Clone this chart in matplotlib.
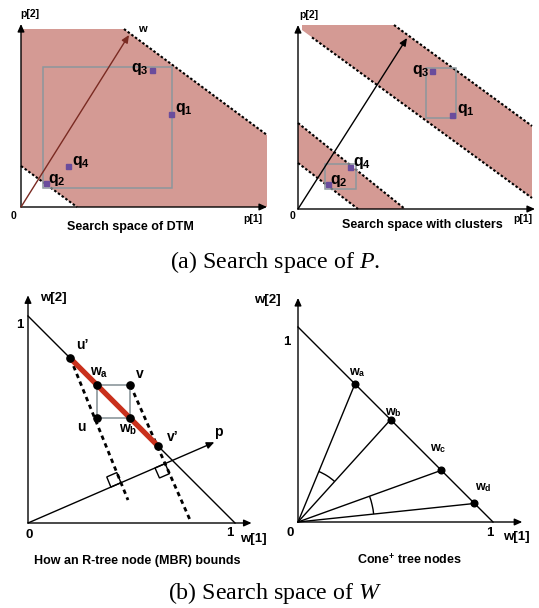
import numpy as np
import matplotlib
matplotlib.use("Agg")
import matplotlib.pyplot as plt
from matplotlib.patches import Polygon, Rectangle, Arc

plt.rcParams["font.family"] = ["Liberation Sans", "DejaVu Sans"]
plt.rcParams["mathtext.fontset"] = "custom"
plt.rcParams["mathtext.rm"] = "Liberation Sans:bold"
plt.rcParams["mathtext.bf"] = "Liberation Sans:bold"
plt.rcParams["mathtext.it"] = "Liberation Serif:italic"

# ---- (a) search space of P, left: DTM -------------------------------------
dtm_region = [(0.0, 0.89), (0.515, 0.89), (1.23, 0.36), (1.23, 0.0), (0.28, 0.0), (0.0, 0.205)]
dtm_bounds = [[(0.515, 0.89), (1.23, 0.36)], [(0.0, 0.205), (0.28, 0.0)]]
dtm_box = [(0.11, 0.095), (0.755, 0.70)]
dtm_w = (0.54, 0.86)
q_names = ["1", "2", "3", "4"]
dtm_qx = [0.75, 0.125, 0.655, 0.235]
dtm_qy = [0.465, 0.12, 0.685, 0.205]

# ---- (a) right: with clusters ---------------------------------------------
cl_upper = [(0.02, 0.92), (0.48, 0.92), (1.17, 0.415), (1.17, 0.055), (0.02, 0.895)]
cl_lower = [(0.0, 0.43), (0.535, 0.0), (0.30, 0.0), (0.0, 0.23)]
cl_bounds = [[(0.48, 0.92), (1.17, 0.415)], [(0.07, 0.858), (1.17, 0.055)],
             [(0.0, 0.43), (0.535, 0.0)], [(0.0, 0.23), (0.30, 0.0)]]
cl_boxes = [[(0.64, 0.455), (0.79, 0.705)], [(0.135, 0.10), (0.29, 0.225)]]
cl_w = (0.545, 0.855)
cl_qx = [0.77, 0.15, 0.67, 0.26]
cl_qy = [0.47, 0.125, 0.69, 0.21]

# ---- (b) left: R-tree node bounds ----------------------------------------
mbr_u = (0.335, 0.505)
mbr_v = (0.495, 0.665)
mbr_names = ["u’", "w$_{\\mathbf{a}}$", "v", "u", "w$_{\\mathbf{b}}$", "v’"]
mbr_x = [0.205, 0.335, 0.495, 0.335, 0.495, 0.628]
mbr_y = [0.795, 0.665, 0.665, 0.505, 0.505, 0.372]
mbr_p = (0.90, 0.39)
mbr_dash = [[(0.205, 0.795), (0.483, 0.111)], [(0.495, 0.665), (0.783, 0.014)]]

# ---- (b) right: cone tree nodes ------------------------------------------
cone_names = ["a", "b", "c", "d"]
cone_x = [0.292, 0.475, 0.735, 0.905]
cone_y = [0.708, 0.525, 0.265, 0.095]
cone_arcs = [(0, 1, 0.28), (2, 3, 0.39)]  # ray pair, radius

FILL = "#d49a94"
BOXC = "#8c979c"
QC = "#6a4c9c"
W, H = 539, 608

fig = plt.figure(figsize=(W / 100, H / 100), dpi=100)


def panel(rect, origin, scale):
    x0, y0, w, h = rect
    ax = fig.add_axes([x0 / W, 1 - (y0 + h) / H, w / W, h / H])
    ox, oy = origin
    ax.set_xlim((x0 - ox) / scale, (x0 + w - ox) / scale)
    ax.set_ylim((oy - y0 - h) / scale, (oy - y0) / scale)
    ax.set_axis_off()
    return ax


def arrow(ax, start, end, color="black", lw=1.0, head=0.45):
    ax.annotate("", xy=end, xytext=start,
                arrowprops=dict(arrowstyle=f"-|>,head_length={head},head_width={head * 0.45}",
                                color=color, lw=lw, shrinkA=0, shrinkB=0, mutation_scale=10))


def axes_arrows(ax, xmax, ymax, lw=1.0):
    arrow(ax, (0, 0), (xmax, 0), lw=lw)
    arrow(ax, (0, 0), (0, ymax), lw=lw)


def dashed(ax, seg, lw=1.5, dash=(1.2, 1.0)):
    (x0, y0), (x1, y1) = seg
    ax.plot([x0, x1], [y0, y1], color="black", lw=lw, dashes=dash, solid_capstyle="butt")


def box(ax, corners, lw=1.1):
    (x0, y0), (x1, y1) = corners
    ax.add_patch(Rectangle((x0, y0), x1 - x0, y1 - y0, fill=False, ec=BOXC, lw=lw, zorder=3))


def qlabel(ax, x, y, name, ha):
    ax.text(x, y, r"$\mathbf{q}_{\mathbf{%s}}$" % name, fontsize=11.5, ha=ha, va="center", zorder=6)


# ---------------- panel (a) left ----------------
ax1 = panel((0, 0, 270, 240), (21, 207), 200)
ax1.add_patch(Polygon(dtm_region, closed=True, fc=FILL, ec="none", zorder=1))
for seg in dtm_bounds:
    dashed(ax1, seg)
box(ax1, dtm_box)
axes_arrows(ax1, 1.23, 0.915)
arrow(ax1, (0, 0), dtm_w, color="#7a2a22", lw=1.0)
ax1.plot(dtm_qx, dtm_qy, "s", color=QC, ms=3.6, zorder=5)
qlabel(ax1, 0.64, 0.69, "3", "right")
qlabel(ax1, 0.77, 0.49, "1", "left")
qlabel(ax1, 0.255, 0.225, "4", "left")
qlabel(ax1, 0.135, 0.135, "2", "left")
ax1.text(0.605, 0.89, "w", fontsize=8, fontweight="bold", ha="center", va="center")
ax1.text(0.045, 0.965, "p[2]", fontsize=7.5, fontweight="bold", ha="center", va="center")
ax1.text(1.16, -0.06, "p[1]", fontsize=7.5, fontweight="bold", ha="center", va="center")
ax1.text(-0.035, -0.045, "0", fontsize=7.5, fontweight="bold", ha="center", va="center")
ax1.text(0.545, -0.098, "Search space of DTM", fontsize=9, fontweight="bold", ha="center", va="center")

# ---------------- panel (a) right ----------------
ax2 = panel((270, 0, 269, 240), (298, 209), 200)
ax2.add_patch(Polygon(cl_upper, closed=True, fc=FILL, ec="none", zorder=1))
ax2.add_patch(Polygon(cl_lower, closed=True, fc=FILL, ec="none", zorder=1))
for seg in cl_bounds:
    dashed(ax2, seg)
for corners in cl_boxes:
    box(ax2, corners)
axes_arrows(ax2, 1.185, 0.92)
arrow(ax2, (0, 0), cl_w, lw=1.0)
ax2.plot(cl_qx, cl_qy, "s", color=QC, ms=3.6, zorder=5)
qlabel(ax2, 0.66, 0.69, "3", "right")
qlabel(ax2, 0.795, 0.495, "1", "left")
qlabel(ax2, 0.275, 0.23, "4", "left")
qlabel(ax2, 0.16, 0.14, "2", "left")
ax2.text(0.055, 0.97, "p[2]", fontsize=7.5, fontweight="bold", ha="center", va="center")
ax2.text(1.125, -0.05, "p[1]", fontsize=7.5, fontweight="bold", ha="center", va="center")
ax2.text(-0.03, -0.035, "0", fontsize=7.5, fontweight="bold", ha="center", va="center")
ax2.text(0.62, -0.08, "Search space with clusters", fontsize=9, fontweight="bold", ha="center", va="center")

# ---------------- panel (b) left ----------------
ax3 = panel((0, 280, 270, 328), (28, 523), 207)
axes_arrows(ax3, 1.08, 1.10)
ax3.plot([0, 1], [1, 0], color="black", lw=1.0)
arrow(ax3, (0, 0), mbr_p, lw=1.0)
for seg in mbr_dash:
    dashed(ax3, seg, lw=2.0, dash=(1.6, 1.4))
box(ax3, [mbr_u, mbr_v], lw=1.2)
ax3.plot([mbr_x[0], mbr_x[-1]], [mbr_y[0], mbr_y[-1]], color="#c9301c", lw=3.8,
         solid_capstyle="butt", zorder=4)
ax3.plot(mbr_x, mbr_y, "o", color="black", ms=5.2, ls="none", zorder=5)

# right-angle marks where the bounding lines meet p
p = np.array(mbr_p)
p_hat = p / np.linalg.norm(p)
sq = 0.053
for (a, e), side in zip(mbr_dash, (1, -1)):
    a, e = np.array(a), np.array(e)
    d = (e - a) / np.linalg.norm(e - a)
    t, _ = np.linalg.solve(np.column_stack([d, -p_hat]), -a)
    foot = a + t * d
    b = -d if side > 0 else d
    ax3.add_patch(Polygon([foot, foot - sq * p_hat, foot - sq * p_hat + sq * b, foot + sq * b],
                          closed=True, fill=False, ec="black", lw=1.0, zorder=3))

mbr_lab = [(0.26, 0.86), (0.343, 0.725), (0.54, 0.72), (0.256, 0.464), (0.483, 0.449), (0.70, 0.415)]
for (lx, ly), name in zip(mbr_lab, mbr_names):
    ax3.text(lx, ly, name, fontsize=10, fontweight="bold", ha="center", va="center")
ax3.text(0.92, 0.44, "p", fontsize=10, fontweight="bold", ha="center", va="center")
ax3.text(0.058, 1.087, "w[2]", fontsize=9.5, fontweight="bold", ha="left", va="center")
ax3.text(-0.04, 0.957, "1", fontsize=9.5, fontweight="bold", ha="center", va="center")
ax3.text(0.005, -0.058, "0", fontsize=9.5, fontweight="bold", ha="center", va="center")
ax3.text(0.976, -0.048, "1", fontsize=9.5, fontweight="bold", ha="center", va="center")
ax3.text(1.024, -0.077, "w[1]", fontsize=9.5, fontweight="bold", ha="left", va="center")
ax3.text(0.53, -0.184, "How an R-tree node (MBR) bounds", fontsize=9, fontweight="bold",
         ha="center", va="center")

# ---------------- panel (b) right ----------------
ax4 = panel((270, 280, 269, 328), (298, 522), 195)
axes_arrows(ax4, 1.15, 1.149)
ax4.plot([0, 1], [1, 0], color="black", lw=1.0)
for x, y in zip(cone_x, cone_y):
    ax4.plot([0, x], [0, y], color="black", lw=1.0)
ax4.plot(cone_x, cone_y, "o", color="black", ms=4.8, ls="none", zorder=5)
ang = np.degrees(np.arctan2(cone_y, cone_x))
for i, j, r in cone_arcs:
    ax4.add_patch(Arc((0, 0), 2 * r, 2 * r, theta1=ang[j], theta2=ang[i], color="black", lw=1.0))
cone_lab = [(0.303, 0.764), (0.49, 0.562), (0.718, 0.374), (0.95, 0.174)]
for (lx, ly), name in zip(cone_lab, cone_names):
    ax4.text(lx, ly, r"w$_{\mathbf{%s}}$" % name, fontsize=9, fontweight="bold", ha="center", va="center")
ax4.text(-0.09, 1.138, "w[2]", fontsize=9.5, fontweight="bold", ha="right", va="center")
ax4.text(-0.056, 0.923, "1", fontsize=9.5, fontweight="bold", ha="center", va="center")
ax4.text(-0.04, -0.056, "0", fontsize=9.5, fontweight="bold", ha="center", va="center")
ax4.text(0.985, -0.056, "1", fontsize=9.5, fontweight="bold", ha="center", va="center")
ax4.text(1.05, -0.077, "w[1]", fontsize=9.5, fontweight="bold", ha="left", va="center")
ax4.text(0.574, -0.19, "Cone$^{+}$ tree nodes", fontsize=9, fontweight="bold", ha="center", va="center")

# ---------------- captions ----------------
fig.text(275 / W, 1 - 262 / H, "(a) Search space of $P$.", family="Liberation Serif",
         fontsize=17.3, ha="center", va="center")
fig.text(275 / W, 1 - 593 / H, "(b) Search space of $W$", family="Liberation Serif",
         fontsize=17.3, ha="center", va="center")

fig.savefig("out.png", dpi=100)
